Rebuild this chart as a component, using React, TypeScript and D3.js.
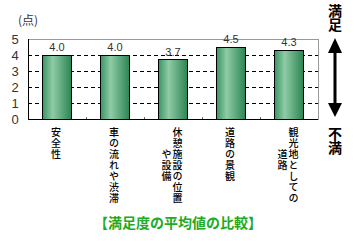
import React from "react";
import * as d3 from "d3";

const categories = ["安全性", "車の流れや渋滞", "休憩施設の位置や設備", "道路の景観", "観光地としての道路"];
// columns of vertical text (right-to-left); full-width spaces mark empty rows
const labelColumns: string[][] = [
  ["安全性"],
  ["車の流れや渋滞"],
  ["休憩施設の位置", "　　や設備"],
  ["道路の景観"],
  ["観光地としての", "　　道路"],
];
const values = [4.0, 4.0, 3.7, 4.5, 4.3];
const yTicks = [0, 1, 2, 3, 4, 5];
const unitLabel = "(点)";
const topLabel = "満足";
const bottomLabel = "不満";
const title = "【満足度の平均値の比較】";

const W = 356, H = 242;
const plot = { left: 28, right: 318, top: 39, bottom: 119 };

export default function App() {
  const x = d3.scaleBand<string>().domain(categories).range([plot.left, plot.right]).paddingInner(0.5).paddingOuter(0.25);
  const y = d3.scaleLinear().domain([0, 5]).range([plot.bottom, plot.top]);
  const step = x.step();
  const jp = "'Noto Sans CJK JP', sans-serif";
  const sans = "'Liberation Sans', Arial, sans-serif";
  const ax = 335;
  const vert: React.CSSProperties = { writingMode: "vertical-rl" as any, textOrientation: "upright" as any };
  return (
    <svg width={W} height={H} style={{ position: "absolute", left: 0, top: 0, background: "#fff" }}>
      <defs>
        <linearGradient id="barGrad" x1="0" x2="1" y1="0" y2="0">
          <stop offset="0%" stopColor="#3a9563" />
          <stop offset="35%" stopColor="#8fcba6" />
          <stop offset="100%" stopColor="#2b8553" />
        </linearGradient>
      </defs>
      <rect x={plot.left} y={plot.top} width={plot.right - plot.left} height={plot.bottom - plot.top} fill="#fff" stroke="#999" strokeWidth={1} shapeRendering="crispEdges" />
      {yTicks.filter(t => t > 0 && t < 5).map(t => (
        <line key={t} x1={plot.left} x2={plot.right} y1={y(t)} y2={y(t)} stroke="#000" strokeDasharray="4,3" shapeRendering="crispEdges" />
      ))}
      {categories.slice(1).map((c, i) => {
        const xx = plot.left + step * (i + 1);
        return <line key={c} x1={xx} x2={xx} y1={plot.bottom} y2={plot.bottom - 2} stroke="#666" shapeRendering="crispEdges" />;
      })}
      {categories.map((c, i) => (
        <g key={c}>
          <rect x={x(c)!} y={y(values[i])} width={x.bandwidth()} height={y(0) - y(values[i])} fill="url(#barGrad)" stroke="#000" strokeWidth={1} shapeRendering="crispEdges" />
          <text x={x(c)! + x.bandwidth() / 2} y={y(values[i]) - 4} textAnchor="middle" fontSize={11} fontFamily={sans} fill="#333">{values[i].toFixed(1)}</text>
        </g>
      ))}
      <line x1={plot.left} x2={plot.left} y1={plot.top} y2={plot.bottom} stroke="#000" shapeRendering="crispEdges" />
      <line x1={plot.left} x2={plot.right} y1={plot.bottom} y2={plot.bottom} stroke="#000" shapeRendering="crispEdges" />
      {yTicks.map(t => (
        <text key={t} x={15} y={y(t) + 4.5} textAnchor="middle" fontSize={13} fontFamily={sans} fill="#333">{t}</text>
      ))}
      <text x={18} y={25} fontSize={12} fontFamily={jp} fill="#333">{unitLabel}</text>
      {categories.map((c, i) => {
        const cols = labelColumns[i];
        const cx = x(c)! + x.bandwidth() / 2;
        const colGap = 11;
        const firstX = cx + ((cols.length - 1) * colGap) / 2 - 1;
        return (
          <g key={c}>
            {cols.map((col, j) => (
              <text key={j} x={firstX - j * colGap} y={127} fontSize={10} fontFamily={jp} fontWeight={500} fill="#000" letterSpacing={1} style={vert}>{col}</text>
            ))}
          </g>
        );
      })}
      <text x={ax} y={4} fontSize={14} fontWeight={700} fontFamily={jp} fill="#000" style={vert}>{topLabel}</text>
      <rect x={ax - 1.5} y={50} width={3} height={55} fill="#000" />
      <polygon points={`${ax},38 ${ax - 7},53 ${ax + 7},53`} fill="#000" />
      <polygon points={`${ax},117 ${ax - 7},103 ${ax + 7},103`} fill="#000" />
      <text x={ax} y={127} fontSize={14} fontWeight={700} fontFamily={jp} fill="#000" style={vert}>{bottomLabel}</text>
      <text x={178} y={228} textAnchor="middle" fontSize={14} fontWeight={700} fontFamily={jp} fill="#22aa22">{title}</text>
    </svg>
  );
}
